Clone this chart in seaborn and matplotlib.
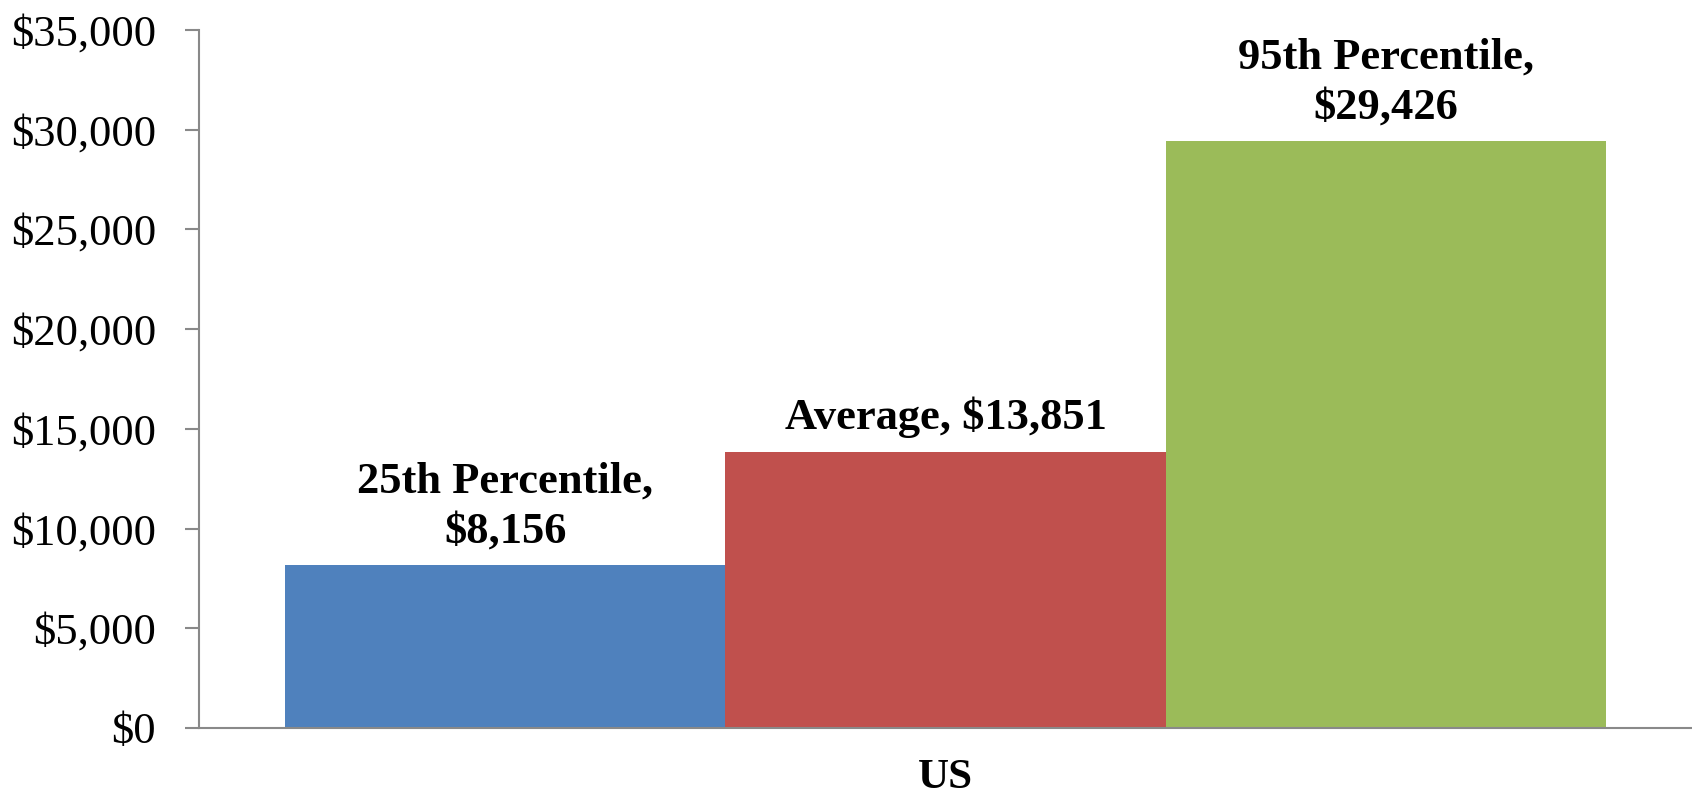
import matplotlib
matplotlib.use("Agg")
import matplotlib.pyplot as plt
import seaborn as sns
import pandas as pd

regions = ["US"]
series = ["25th Percentile", "Average", "95th Percentile"]
values = [8156, 13851, 29426]
label_breaks = ["\n", " ", "\n"]
colors = ["#4F81BD", "#C0504D", "#9BBB59"]
yticks = [0, 5000, 10000, 15000, 20000, 25000, 30000, 35000]

sns.set_theme(style="white")
plt.rcParams["font.family"] = ["Liberation Serif", "DejaVu Serif"]

df = pd.DataFrame({"region": regions * len(series), "series": series, "value": values})

fig = plt.figure(figsize=(16.92, 8.02), dpi=100)
ax = fig.add_axes([199 / 1692, 1 - 728 / 802, 1 - 199 / 1692, (728 - 30) / 802])

sns.barplot(data=df, x="region", y="value", hue="series", palette=colors,
            width=0.885, dodge=True, saturation=1, ax=ax, legend=False,
            linewidth=0, edgecolor="none")

ax.set_xlim(-0.5, 0.5)
ax.set_ylim(0, 35000)
ax.set_yticks(yticks)
ax.set_yticklabels([f"${v:,}" for v in yticks], fontsize=32, color="black")
ax.tick_params(axis="y", direction="out", length=10, width=1.5, color="#898989", pad=21, left=True)
ax.tick_params(axis="x", length=0, pad=22, labelsize=31, labelcolor="black")
for lbl in ax.get_xticklabels():
    lbl.set_fontweight("bold")
ax.set_xlabel("")
ax.set_ylabel("")
for side in ["top", "right"]:
    ax.spines[side].set_visible(False)
for side in ["left", "bottom"]:
    ax.spines[side].set_color("#898989")
    ax.spines[side].set_linewidth(1.5)

patches = [p for c in ax.containers for p in c]
for p, s, v, br in zip(patches, series, values, label_breaks):
    ax.annotate(f"{s},{br}${v:,}", (p.get_x() + p.get_width() / 2, p.get_height()),
                xytext=(0, 10), textcoords="offset points", ha="center", va="bottom",
                fontsize=32, fontweight="bold", linespacing=1.32, color="black")

fig.savefig("out.png", dpi=100)
